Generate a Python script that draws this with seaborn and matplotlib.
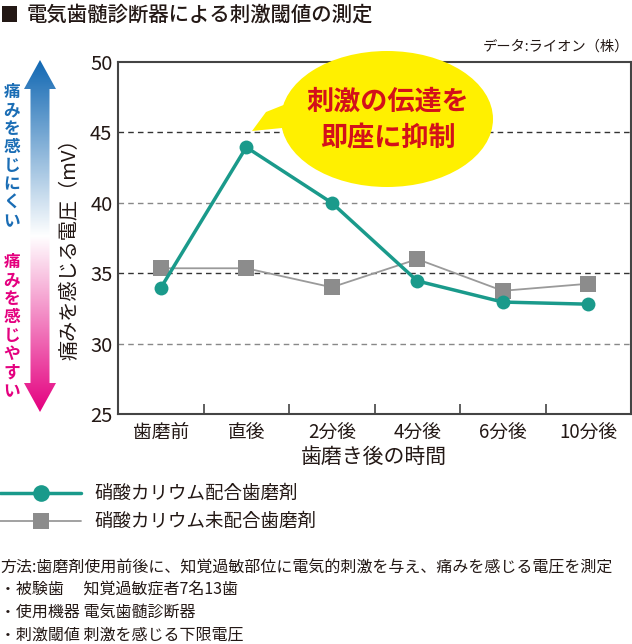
import numpy as np
import pandas as pd
import matplotlib
matplotlib.use('Agg')
import matplotlib.pyplot as plt
import seaborn as sns
from matplotlib.patches import Ellipse, Polygon, Rectangle
from matplotlib.colors import LinearSegmentedColormap
from matplotlib.lines import Line2D

sns.set_style('white')
plt.rcParams['font.family'] = ['Noto Sans CJK JP', 'DejaVu Sans']

# --------------------------------------------------
# data
# --------------------------------------------------
times = ['歯磨前', '直後', '2分後', '4分後', '6分後', '10分後']
with_kno3 = [33.95, 43.95, 40.0, 34.45, 32.95, 32.8]
without_kno3 = [35.35, 35.35, 34.0, 36.0, 33.75, 34.25]
series_names = ['硝酸カリウム配合歯磨剤', '硝酸カリウム未配合歯磨剤']

df = pd.DataFrame({
    'time': times * 2,
    'mV': with_kno3 + without_kno3,
    'group': [series_names[0]] * len(times) + [series_names[1]] * len(times),
})

teal = '#1a9a8b'
grey = '#8c8c8c'
txt = '#231815'

W, H = 632, 644
fig = plt.figure(figsize=(W / 100, H / 100), dpi=100)
ax = fig.add_axes([118 / W, 1 - 414 / H, (631 - 118) / W, (414 - 62) / H])

# dashed gridlines (45 and 35 darker than 40 and 30)
for lvl, c in [(45, '#333333'), (40, '#888888'), (35, '#333333'), (30, '#888888')]:
    ax.axhline(lvl, color=c, lw=1.0, ls=(0, (4, 3)), zorder=1)

sns.lineplot(data=df[df['group'] == series_names[1]], x='time', y='mV', sort=False,
             color='#9a9a9a', lw=1.3, marker='s', markersize=11, markeredgewidth=0,
             markerfacecolor=grey, ax=ax, zorder=3)
sns.lineplot(data=df[df['group'] == series_names[0]], x='time', y='mV', sort=False,
             color=teal, lw=2.5, marker='o', markersize=10, markeredgewidth=0,
             markerfacecolor=teal, ax=ax, zorder=4)

ax.set_xlim(-0.5, len(times) - 0.5)
ax.set_ylim(25, 50)
ax.set_yticks([25, 30, 35, 40, 45, 50])
ax.set_xlabel('')
ax.set_ylabel('')
ax.set_xticks(np.arange(len(times)) + 0.5, minor=True)
ax.tick_params(axis='x', which='major', length=0, pad=6, labelsize=13.5, labelcolor=txt)
ax.tick_params(axis='x', which='minor', direction='in', length=7, width=1.2, color='#444444',
               bottom=True)
ax.tick_params(axis='y', length=0, pad=4, labelsize=14.5, labelcolor=txt)
for s in ax.spines.values():
    s.set_color('#444444')
    s.set_linewidth(1.5)

# --------------------------------------------------
# overlay in pixel coordinates for annotations
# --------------------------------------------------
ov = fig.add_axes([0, 0, 1, 1])
ov.set_xlim(0, W)
ov.set_ylim(H, 0)
ov.axis('off')
ov.patch.set_alpha(0)

# title
ov.add_patch(Rectangle((2, 6), 15, 16, fc=txt, ec='none'))
ov.text(27, 15, '電気歯髄診断器による刺激閾値の測定', fontsize=14.7, fontweight='medium',
        color=txt, va='center', ha='left')
ov.text(629, 47, 'データ:ライオン（株）', fontsize=10.3, color=txt, va='center', ha='right')

# y label and x label
ov.text(70, 244, '痛みを感じる電圧（mV）', rotation=90, fontsize=14.5, color=txt,
        va='center', ha='center')
ov.text(374, 457, '歯磨き後の時間', fontsize=15, color=txt, va='center', ha='center')

# speech bubble
tail = Polygon([(286, 104), (266, 112), (252, 131), (292, 127)], closed=True,
               fc='#fff000', ec='none', zorder=5)
ov.add_patch(tail)
ov.add_patch(Ellipse((387, 119), 212, 136, fc='#fff000', ec='none', zorder=5))
ov.text(388, 102, '刺激の伝達を', fontsize=19.5, fontweight='bold', color='#d3111a',
        ha='center', va='center', zorder=6)
ov.text(388, 138, '即座に抑制', fontsize=19.5, fontweight='bold', color='#d3111a',
        ha='center', va='center', zorder=6)

# gradient double arrow
cmap = LinearSegmentedColormap.from_list('pain', ['#1268b3', '#ffffff', '#e4007f'])
grad = np.linspace(0, 1, 256).reshape(-1, 1)
im = ov.imshow(grad, cmap=cmap, extent=(20, 60, 412, 60), aspect='auto', zorder=2)
arrow = Polygon([(40, 60), (56, 89), (49.5, 89), (49.5, 383), (56, 383), (40, 412),
                 (24, 383), (30.5, 383), (30.5, 89), (24, 89)], closed=True,
                fc='none', ec='none', transform=ov.transData)
ov.add_patch(arrow)
im.set_clip_path(arrow)
ov.set_xlim(0, W)
ov.set_ylim(H, 0)

for i, ch in enumerate('痛みを感じにくい'):
    ov.text(12, 92 + i * 18.4, ch, fontsize=12, fontweight='bold', color='#1a6db5',
            ha='center', va='center')
for i, ch in enumerate('痛みを感じやすい'):
    ov.text(12, 262 + i * 18.4, ch, fontsize=12, fontweight='bold', color='#e4007f',
            ha='center', va='center')

# legend
handles = [Line2D([], [], color=teal, lw=2.5, marker='o', markersize=12, markeredgewidth=0),
           Line2D([], [], color='#9a9a9a', lw=1.3, marker='s', markersize=12,
                  markeredgewidth=0, markerfacecolor=grey)]
fig.legend(handles, series_names, loc='upper left', bbox_to_anchor=(0, 1 - 485 / H),
           frameon=False, fontsize=13.3, handlelength=4.4, handletextpad=0.7,
           borderpad=0, borderaxespad=0, labelspacing=0.55, labelcolor=txt)

# notes
notes = ['方法:歯磨剤使用前後に、知覚過敏部位に電気的刺激を与え、痛みを感じる電圧を測定',
         '・被験歯　 知覚過敏症者7名13歯',
         '・使用機器 電気歯髄診断器',
         '・刺激閾値 刺激を感じる下限電圧']
for i, line in enumerate(notes):
    ov.text(0, 568 + i * 22.2, line, fontsize=11.5, color=txt, ha='left', va='center')

fig.savefig('out.png', dpi=100)
